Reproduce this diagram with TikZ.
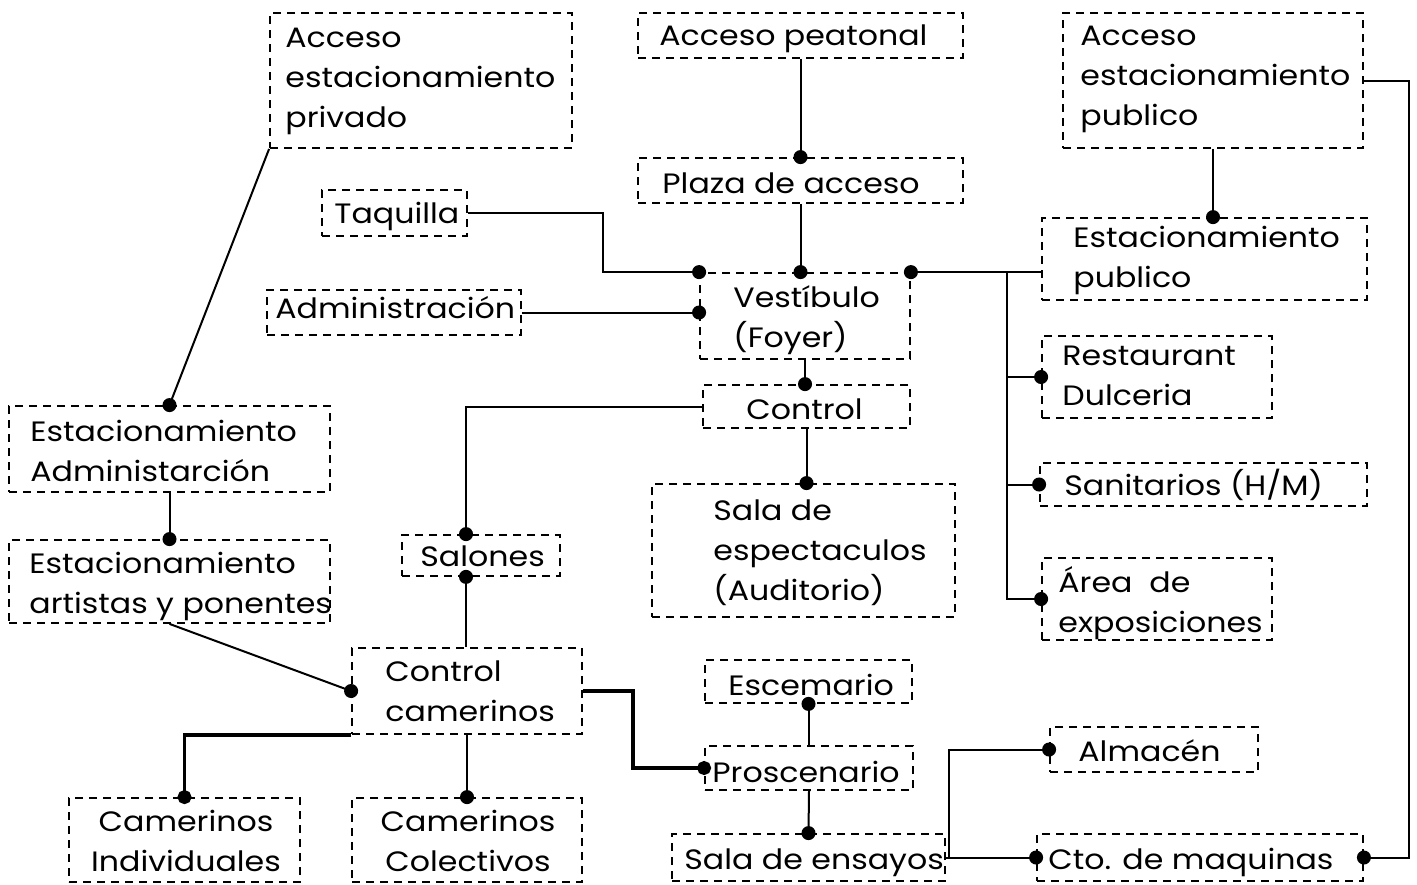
\documentclass[tikz,border=0pt]{standalone}
\usepackage{fontspec}
\setmainfont{Poppins}[FakeStretch=1.13]
\usetikzlibrary{fit,arrows.meta}

% one unit = one pixel of the 1417 x 884 sheet, y grows downwards
\tikzset{
  roombox/.style={draw, line width=0.9pt, dash pattern=on 4pt off 3pt,
    inner sep=0pt, rectangle},
  roomlabel/.style={anchor=north west, align=left, inner sep=0pt,
    font=\fontsize{14}{20}\selectfont},
  roomlabelc/.style={roomlabel, anchor=north, align=center},
  link/.style={line width=1pt},
  heavylink/.style={line width=1.6pt},
  dotted end/.style={-{Circle[length=7pt]}, shorten >=-3.5pt},
}

% box: name, x1, y1, x2, y2
\newcommand\roomrect[5]{\node[roombox, fit={(#2,#3) (#4,#5)}] (#1) {};}
% label: name, x, first baseline, text (lines start with \strut)
\newcommand\roomtext[4]{\node[roomlabel] (#1) at (#2,#3-28) {#4};}
\newcommand\roomtextc[4]{\node[roomlabelc] (#1) at (#2,#3-28) {#4};}

\begin{document}
\begin{tikzpicture}[x=0.5pt,y=-0.5pt]
\useasboundingbox (0,0) rectangle (1417,884);

% ---------- rooms ----------
\roomrect{accpriv}{270}{13}{572}{148}
\roomtext{accprivt}{285}{47}{\strut Acceso\\\strut estacionamiento\\\strut privado}

\roomrect{accpeat}{638}{13}{963}{58}
\roomtext{accpeatt}{659}{45}{\strut Acceso peatonal}

\roomrect{accpub}{1063}{13}{1363}{148}
\roomtext{accpubt}{1080}{45}{\strut Acceso\\\strut estacionamiento\\\strut publico}

\roomrect{plaza}{638}{158}{963}{203}
\roomtext{plazat}{662}{193}{\strut Plaza de acceso}

\roomrect{taq}{322}{190}{467}{236}
\roomtext{taqt}{334}{223}{\strut Taquilla}

\roomrect{estpub}{1042}{218}{1367}{300}
\roomtext{estpubt}{1073}{247}{\strut Estacionamiento\\\strut publico}

\roomrect{adm}{267}{290}{521}{335}
\roomtext{admt}{275}{318}{\strut Administración}

\roomrect{vest}{700}{273}{910}{359}
\roomtext{vestt}{733}{307}{\strut Vestíbulo\\\strut (Foyer)}

\roomrect{ctrl}{703}{385}{910}{428}
\roomtext{ctrlt}{746}{419}{\strut Control}

\roomrect{rest}{1042}{336}{1272}{418}
\roomtext{restt}{1062}{365}{\strut Restaurant\\\strut Dulceria}

\roomrect{estadm}{9}{406}{330}{492}
\roomtext{estadmt}{30}{441}{\strut Estacionamiento\\\strut Administarción}

\roomrect{sani}{1040}{463}{1367}{506}
\roomtext{sanit}{1064}{495}{\strut Sanitarios (H/M)}

\roomrect{salones}{402}{535}{560}{576}
\roomtext{salonest}{420}{566}{\strut Salones}

\roomrect{estart}{9}{540}{330}{623}
\roomtext{estartt}{29}{573}{\strut Estacionamiento\\\strut artistas y ponentes}

\roomrect{salaesp}{652}{484}{955}{617}
\roomtext{salaespt}{713}{520}{\strut Sala de\\\strut espectaculos\\\strut (Auditorio)}

\roomrect{area}{1042}{558}{1272}{640}
\roomtext{areat}{1058}{592}{\strut Área\ \ de\\\strut exposiciones}

\roomrect{ccam}{352}{648}{582}{734}
\roomtext{ccamt}{385}{681}{\strut Control\\\strut camerinos}

\roomrect{escen}{705}{660}{912}{703}
\roomtext{escent}{728}{695}{\strut Escemario}

\roomrect{prosc}{705}{746}{913}{790}
\roomtext{prosct}{712}{782}{\strut Proscenario}

\roomrect{alm}{1050}{727}{1258}{772}
\roomtext{almt}{1078}{761}{\strut Almacén}

\roomrect{camind}{69}{798}{300}{882}
\roomtextc{camindt}{186}{831}{\strut Camerinos\\\strut Individuales}

\roomrect{camcol}{352}{798}{582}{882}
\roomtextc{camcolt}{468}{831}{\strut Camerinos\\\strut Colectivos}

\roomrect{salaens}{672}{834}{945}{881}
\roomtext{salaenst}{684}{869}{\strut Sala de ensayos}

\roomrect{cto}{1037}{834}{1363}{881}
\roomtext{ctot}{1048}{869}{\strut Cto. de maquinas}

% ---------- connections ----------
\coordinate (trunk) at (1007,273);

\draw[link, dotted end] (accpeat.south) -- (plaza.north);
\draw[link, dotted end] (plaza.south) -- (plaza.south |- vest.north);
\draw[link, dotted end] (taq.east) -- ++(135,0) |- (vest.north west);
\draw[link, dotted end] (adm.east) -- (adm.east -| vest.west);
\draw[link, dotted end] (estpub.west |- vest.north east) -- (vest.north east);
\draw[link, dotted end] (trunk) |- (rest.west);
\draw[link, dotted end] (trunk) |- (sani.west);
\draw[link, dotted end] (trunk) |- (area.west);
\draw[link, dotted end] (accpub.south) -- (accpub.south |- estpub.north);
\draw[link, dotted end] (accpub.east) -- ++(45,0) |- (cto.east);
\draw[link, dotted end] (vest.south) -- (vest.south |- ctrl.north);
\draw[link, dotted end] (ctrl.south) -- (ctrl.south |- salaesp.north);
\draw[link, dotted end] (ctrl.west) -| ([xshift=-7.5pt]salones.north);
\draw[link, dotted end] (ccam.north -| 466,0) -- ([xshift=-7.5pt]salones.south);
\draw[link, dotted end] (accpriv.south west) -- (estadm.north);
\draw[link, dotted end] (estadm.south) -- (estart.north);
\draw[link, dotted end] (estart.south) -- (ccam.west);
\draw[heavylink, dotted end] (ccam.south west) -| (camind.north);
\draw[link, dotted end] (ccam.south) -- (camcol.north);
\draw[heavylink, dotted end] (ccam.east) -- ++(50,0) |- (prosc.west);
\draw[link, dotted end] (prosc.north -| escen.south) -- (escen.south);
\draw[link, dotted end] (prosc.south) -- (salaens.north);
\draw[link, dotted end] (salaens.east) -- ++(3,0) |- (alm.west);
\draw[link, dotted end] (salaens.east) -- (cto.west);
\end{tikzpicture}
\end{document}
